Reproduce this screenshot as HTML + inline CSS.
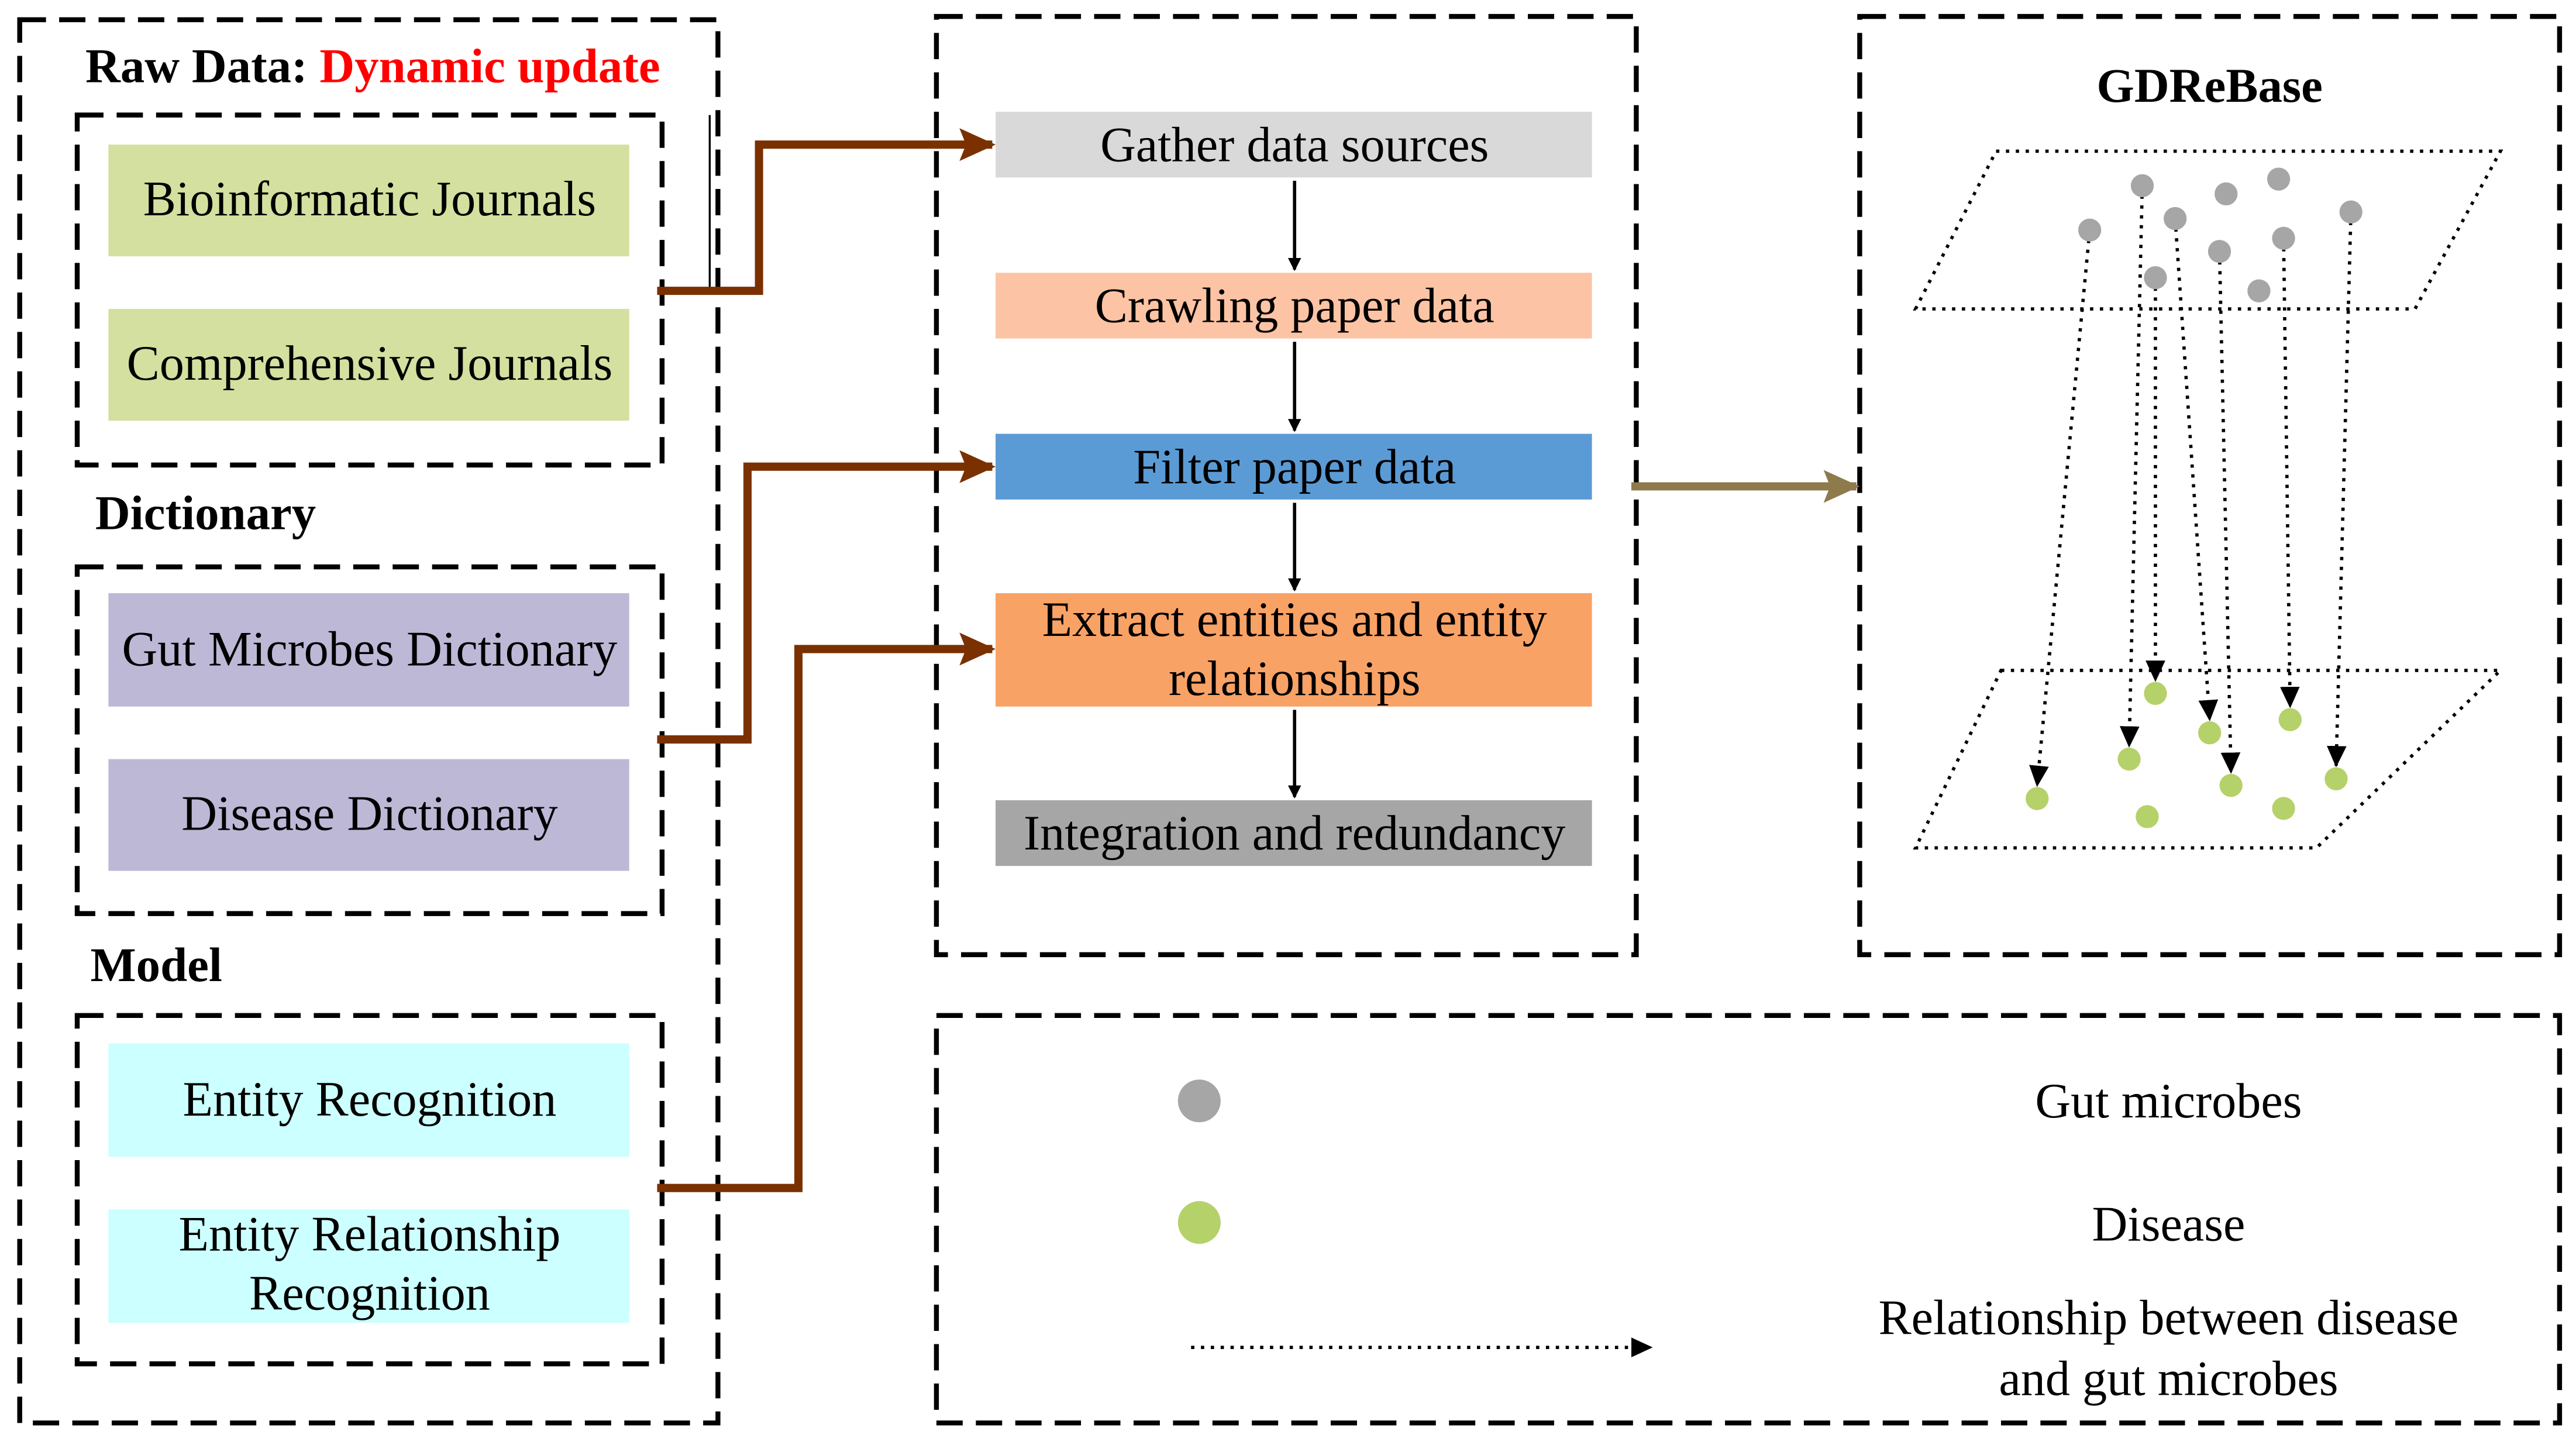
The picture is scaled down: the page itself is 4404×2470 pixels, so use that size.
<!DOCTYPE html>
<html><head><meta charset="utf-8"><style>html,body{margin:0;padding:0;background:#fff}svg{display:block}</style></head><body>
<svg xmlns="http://www.w3.org/2000/svg" width="4404" height="2470" viewBox="0 0 1568 879.4" font-family="Liberation Serif, serif">
<defs>
<marker id="ab" markerWidth="8" markerHeight="8" refX="7" refY="4" orient="auto" markerUnits="userSpaceOnUse" viewBox="0 0 8 8"><path d="M0,0 L8,4 L0,8z" fill="#000"/></marker>
<marker id="abr" markerWidth="22" markerHeight="20" refX="20" refY="10" orient="auto" markerUnits="userSpaceOnUse" viewBox="0 0 22 20"><path d="M0,0 L22,10 L0,20 L4,10z" fill="#7b3000"/></marker>
<marker id="aol" markerWidth="22" markerHeight="20" refX="20" refY="10" orient="auto" markerUnits="userSpaceOnUse" viewBox="0 0 22 20"><path d="M0,0 L22,10 L0,20 L4,10z" fill="#8f7a4c"/></marker>
<marker id="ad" markerWidth="14" markerHeight="14" refX="12" refY="7" orient="auto" markerUnits="userSpaceOnUse" viewBox="0 0 14 14"><path d="M0,1 L13,7 L0,13z" fill="#000"/></marker>
</defs>
<g fill="none" stroke="#000" stroke-width="3" stroke-dasharray="16 8">
<rect x="12" y="12" width="425" height="854"/>
<rect x="47" y="70" width="356" height="213"/>
<rect x="47" y="345" width="356" height="211"/>
<rect x="47" y="618" width="356" height="212"/>
<rect x="570" y="10" width="426" height="571"/>
<rect x="1132" y="10" width="426" height="571"/>
<rect x="570" y="618" width="988" height="248"/>
</g>
<line x1="432" y1="70" x2="432" y2="178" stroke="#000" stroke-width="1.2"/>
<g font-size="29.5" font-weight="bold">
<text x="52" y="50">Raw Data: <tspan fill="#ff0000">Dynamic update</tspan></text>
<text x="58" y="322">Dictionary</text>
<text x="55" y="597">Model</text>
<text x="1345" y="62" text-anchor="middle">GDReBase</text>
</g>
<rect x="66" y="88" width="317" height="68" fill="#d3e09f"/>
<rect x="66" y="188" width="317" height="68" fill="#d3e09f"/>
<rect x="66" y="361" width="317" height="69" fill="#bcb8d6"/>
<rect x="66" y="462" width="317" height="68" fill="#bcb8d6"/>
<rect x="66" y="635" width="317" height="69" fill="#ccffff"/>
<rect x="66" y="736" width="317" height="69" fill="#ccffff"/>
<g font-size="30" text-anchor="middle">
<text x="225" y="131">Bioinformatic Journals</text>
<text x="225" y="231">Comprehensive Journals</text>
<text x="225" y="405">Gut Microbes Dictionary</text>
<text x="225" y="505">Disease Dictionary</text>
<text x="225" y="679">Entity Recognition</text>
<text x="225" y="761">Entity Relationship</text>
<text x="225" y="797">Recognition</text>
</g>
<rect x="606" y="68" width="363" height="40" fill="#d9d9d9"/>
<rect x="606" y="166" width="363" height="40" fill="#fcc4a4"/>
<rect x="606" y="264" width="363" height="40" fill="#5b9bd5"/>
<rect x="606" y="361" width="363" height="69" fill="#f9a266"/>
<rect x="606" y="487" width="363" height="40" fill="#a6a6a6"/>
<g font-size="30" text-anchor="middle">
<text x="788" y="98">Gather data sources</text>
<text x="788" y="196">Crawling paper data</text>
<text x="788" y="294">Filter paper data</text>
<text x="788" y="387">Extract entities and entity</text>
<text x="788" y="423">relationships</text>
<text x="788" y="517">Integration and redundancy</text>
</g>
<g stroke="#000" stroke-width="2" marker-end="url(#ab)">
<line x1="788" y1="110" x2="788" y2="164"/>
<line x1="788" y1="208" x2="788" y2="262"/>
<line x1="788" y1="306" x2="788" y2="359"/>
<line x1="788" y1="432" x2="788" y2="485"/>
</g>
<g fill="none" stroke="#7b3000" stroke-width="5" marker-end="url(#abr)">
<polyline points="400,177 462,177 462,88 604,88"/>
<polyline points="400,450 455,450 455,284 604,284"/>
<polyline points="400,723 486,723 486,395 604,395"/>
</g>
<line x1="993" y1="296" x2="1130" y2="296" stroke="#8f7a4c" stroke-width="5" marker-end="url(#aol)"/>
<g fill="none" stroke="#000" stroke-width="2" stroke-dasharray="2 4">
<polygon points="1215,92 1522,92 1470,188 1166,188"/>
<polygon points="1218,408 1522,408 1410,516 1166,516"/>
</g>
<g stroke="#000" stroke-width="2" stroke-dasharray="2 4" marker-end="url(#ad)">
<line x1="1272" y1="140" x2="1240" y2="478"/>
<line x1="1304" y1="113" x2="1296" y2="454"/>
<line x1="1312" y1="169" x2="1312" y2="414"/>
<line x1="1324" y1="133" x2="1345" y2="438"/>
<line x1="1351" y1="153" x2="1358" y2="470"/>
<line x1="1390" y1="145" x2="1394" y2="430"/>
<line x1="1431" y1="129" x2="1422" y2="466"/>
</g>
<g fill="#a6a6a6">
<circle cx="1304" cy="113" r="7"/><circle cx="1387" cy="109" r="7"/><circle cx="1355" cy="118" r="7"/><circle cx="1324" cy="133" r="7"/><circle cx="1272" cy="140" r="7"/><circle cx="1390" cy="145" r="7"/><circle cx="1431" cy="129" r="7"/><circle cx="1351" cy="153" r="7"/><circle cx="1312" cy="169" r="7"/><circle cx="1375" cy="177" r="7"/>
</g>
<g fill="#b5d16a">
<circle cx="1312" cy="422" r="7"/><circle cx="1394" cy="438" r="7"/><circle cx="1345" cy="446" r="7"/><circle cx="1296" cy="462" r="7"/><circle cx="1358" cy="478" r="7"/><circle cx="1422" cy="474" r="7"/><circle cx="1240" cy="486" r="7"/><circle cx="1307" cy="497" r="7"/><circle cx="1390" cy="492" r="7"/>
</g>
<circle cx="730" cy="670" r="13" fill="#a6a6a6"/>
<circle cx="730" cy="744" r="13" fill="#b5d16a"/>
<line x1="725" y1="820" x2="1005" y2="820" stroke="#000" stroke-width="2" stroke-dasharray="2 4" marker-end="url(#ad)"/>
<g font-size="30" text-anchor="middle">
<text x="1320" y="680">Gut microbes</text>
<text x="1320" y="755">Disease</text>
<text x="1320" y="812">Relationship between disease</text>
<text x="1320" y="849">and gut microbes</text>
</g>
</svg>
</body></html>
